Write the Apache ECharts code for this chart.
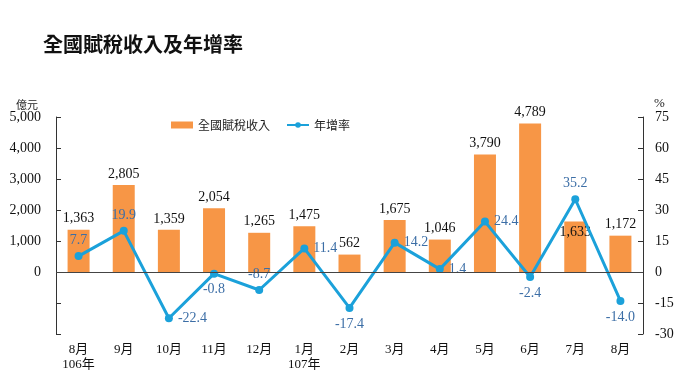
<!DOCTYPE html>
<html><head><meta charset="utf-8">
<script src="https://cdn.jsdelivr.net/npm/echarts@6/dist/echarts.min.js"></script>
<style>html,body{margin:0;padding:0;background:#fff}#c{width:680px;height:383px}</style>
</head><body><div id="c"></div>
<script>
const categories = ['8月\n106年','9月','10月','11月','12月','1月\n107年','2月','3月','4月','5月','6月','7月','8月'];
const revenue = [1363, 2805, 1359, 2054, 1265, 1475, 562, 1675, 1046, 3790, 4789, 1633, 1172];
const growth = [7.7, 19.9, -22.4, -0.8, -8.7, 11.4, -17.4, 14.2, 1.4, 24.4, -2.4, 35.2, -14.0];
const growthLabelPos = ['top','top','right','bottom','top','right','bottom','right','right','right','bottom','top','bottom'];
const revenueLabelPos = ['top','top','top','top','top','top','top','top','top','top','top','insideTop','top'];

const serif = '"Liberation Serif","Noto Sans CJK TC",serif';
const chart = echarts.init(document.getElementById('c'));
chart.setOption({
  animation:false,
  title:{text:'全國賦稅收入及年增率',left:38,top:29,textStyle:{fontFamily:'"Noto Sans CJK TC"',fontWeight:'bold',fontSize:20,color:'#111'}},
  legend:{left:166,top:114,itemGap:16,textStyle:{fontFamily:'"Noto Sans CJK TC"',fontSize:12,color:'#222'},
    data:[{name:'全國賦稅收入',icon:'rect'},{name:'年增率'}],itemWidth:22,itemHeight:7},
  grid:{left:56,right:37,top:117,bottom:49},
  xAxis:{type:'category',data:categories,axisLine:{show:false},axisTick:{show:false},
    axisLabel:{margin:8,color:'#111',fontFamily:serif,fontSize:13,lineHeight:15}},
  yAxis:[
    {type:'value',min:-2000,max:5000,interval:1000,name:'億元',nameGap:6,
     nameTextStyle:{fontFamily:'"Noto Sans CJK TC"',fontSize:11,color:'#222',align:'right',padding:[0,18,0,0]},
     splitLine:{show:false},axisLine:{show:true,lineStyle:{color:'#333'}},
     axisTick:{show:true,inside:true,length:5,lineStyle:{color:'#333'}},
     axisLabel:{margin:15,color:'#111',fontFamily:serif,fontSize:14,formatter:v=>v<0?'':v.toLocaleString('en-US')}},
    {type:'value',min:-30,max:75,interval:15,name:'%',nameGap:6,
     nameTextStyle:{fontFamily:serif,fontSize:13,color:'#222',align:'left',padding:[0,0,0,11]},
     splitLine:{show:false},axisLine:{show:true,lineStyle:{color:'#333'}},
     axisTick:{show:true,inside:true,length:5,lineStyle:{color:'#333'}},
     axisLabel:{margin:12,color:'#111',fontFamily:serif,fontSize:14}}
  ],
  series:[
    {name:'全國賦稅收入',type:'bar',data:revenue.map((v,i)=>({value:v,label:{position:revenueLabelPos[i]}})),barWidth:22,
     itemStyle:{color:'#F79646'},
     label:{show:true,color:'#111',fontFamily:serif,fontSize:14,distance:4,formatter:p=>p.value.toLocaleString('en-US')},
     markLine:{silent:true,symbol:'none',label:{show:false},lineStyle:{color:'#444',width:1.2,type:'solid'},data:[{yAxis:0}]}},
    {name:'年增率',type:'line',yAxisIndex:1,data:growth.map((v,i)=>({value:v,label:{position:growthLabelPos[i]}})),
     lineStyle:{color:'#1BA1DA',width:3},itemStyle:{color:'#1BA1DA'},symbol:'circle',symbolSize:8,
     label:{show:true,color:'#3C6EA6',fontFamily:serif,fontSize:14,distance:5,formatter:p=>p.value.toFixed(1)}}
  ]
});
</script></body></html>
